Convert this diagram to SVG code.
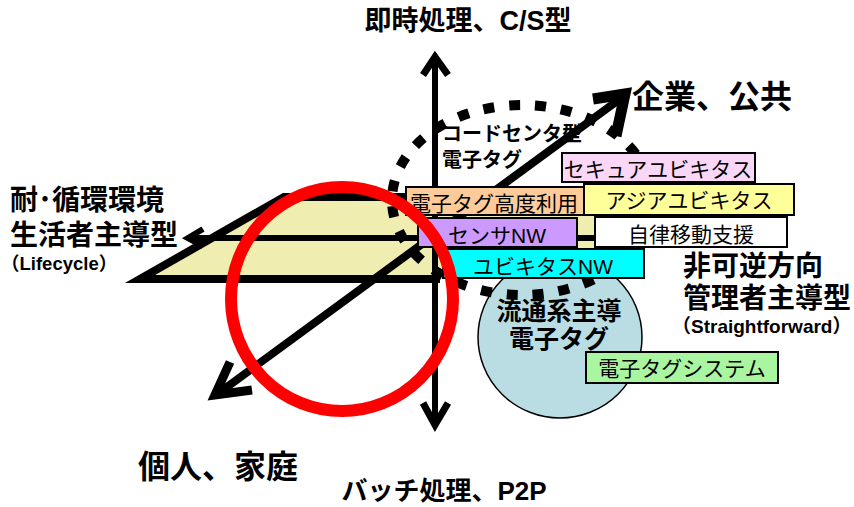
<svg xmlns="http://www.w3.org/2000/svg" width="854" height="507" viewBox="0 0 854 507">
<style>
  .lbl{font-family:"Liberation Sans","Noto Sans CJK JP",sans-serif;font-weight:bold;fill:#000}
  .btxt{font-family:"Liberation Sans","Noto Sans CJK JP",sans-serif;font-size:21px;fill:#000}
  .box{stroke:#000;stroke-width:2}
  .ax{stroke:#000;fill:none;stroke-linejoin:miter}
</style>
<rect width="854" height="507" fill="#fff"/>
<g id="plane">
  <polygon points="140,279 284,197 598,197 598,279" fill="#EFEDB0"/>
  <polyline points="440,279 140,279 284,197 598,197" fill="none" stroke="#000" stroke-width="8" stroke-linejoin="miter"/>
</g>
<g id="label-code">
  <text class="lbl" x="442" y="141" font-size="20">コードセンタ型</text>
  <text class="lbl" x="442" y="167" font-size="20">電子タグ</text>
</g>
<g id="connectors">
  <line class="ax" x1="188" y1="238" x2="600" y2="238" stroke-width="6"/>
  <polyline class="ax" points="203,229 188,238 203,246" stroke-width="6"/>
  <line class="ax" x1="435" y1="57" x2="435" y2="425" stroke-width="6"/>
  <polyline class="ax" points="423,75 435,57 448,75" stroke-width="7"/>
  <polyline class="ax" points="423,403 435,425 448,403" stroke-width="7"/>
  <line class="ax" x1="216" y1="395" x2="624" y2="96" stroke-width="8"/>
  <polyline class="ax" points="593,99 625,94 616,136" stroke-width="11"/>
  <polyline class="ax" points="230,362 215,395 252,390" stroke-width="9"/>
</g>
<g id="distribution">
  <ellipse cx="560" cy="337" rx="82" ry="81" fill="#B9DDE3" stroke="#000" stroke-width="1.5"/>
  <text class="lbl" x="559" y="320" font-size="25" text-anchor="middle">流通系主導</text>
  <text class="lbl" x="559" y="348" font-size="25" text-anchor="middle">電子タグ</text>
</g>
<g id="code-center-region">
  <ellipse cx="522" cy="200" rx="130" ry="95" fill="none" stroke="#000" stroke-width="10" stroke-dasharray="11 15"/>
</g>
<g id="box-secure">
  <rect class="box" x="562" y="153" width="193" height="29" fill="#FAD7F7"/>
  <text class="btxt" x="658" y="177" text-anchor="middle">セキュアユビキタス</text>
</g>
<g id="box-tag-advanced">
  <rect class="box" x="406" y="187" width="179" height="28" fill="#FFCC99"/>
  <text class="btxt" x="410" y="211" font-size="22">電子タグ高度利用</text>
</g>
<g id="box-asia">
  <rect class="box" x="584" y="184" width="210" height="31" fill="#FFFF99"/>
  <text class="btxt" x="689" y="208" text-anchor="middle">アジアユビキタス</text>
</g>
<g id="box-sensor">
  <rect class="box" x="418" y="218" width="159" height="29" fill="#CC99FF"/>
  <text class="btxt" x="497" y="243" text-anchor="middle">センサNW</text>
</g>
<g id="box-mobility">
  <rect class="box" x="595" y="217" width="192" height="30" fill="#FFFFFF"/>
  <text class="btxt" x="691" y="242" text-anchor="middle" font-size="23">自律移動支援</text>
</g>
<g id="box-ubiq-nw">
  <rect class="box" x="443" y="249" width="201" height="29" fill="#00FFFF"/>
  <text class="btxt" x="543" y="274" text-anchor="middle">ユビキタスNW</text>
</g>
<g id="box-tag-system">
  <rect class="box" x="586" y="352" width="192" height="31" fill="#A9F5A0"/>
  <text class="btxt" x="682" y="376" text-anchor="middle">電子タグシステム</text>
</g>
<g id="axis-labels">
  <text class="lbl" x="468" y="30" font-size="27" text-anchor="middle">即時処理、C/S型</text>
  <text class="lbl" x="632" y="108" font-size="32">企業、公共</text>
  <text class="lbl" x="10" y="210" font-size="28">耐･循環環境</text>
  <text class="lbl" x="10" y="245" font-size="28">生活者主導型</text>
  <text class="lbl" x="1" y="270" font-size="18.5">（Lifecycle）</text>
  <text class="lbl" x="673" y="276" font-size="28" dx="10">非可逆方向</text>
  <text class="lbl" x="683" y="308" font-size="28">管理者主導型</text>
  <text class="lbl" x="672" y="333" font-size="19">（Straightforward）</text>
  <text class="lbl" x="138" y="478" font-size="32">個人、家庭</text>
  <text class="lbl" x="444" y="500" font-size="26" text-anchor="middle">バッチ処理、P2P</text>
</g>
<g id="highlight">
  <ellipse cx="342" cy="299" rx="111" ry="112" fill="none" stroke="#FF0000" stroke-width="12"/>
</g>
</svg>
